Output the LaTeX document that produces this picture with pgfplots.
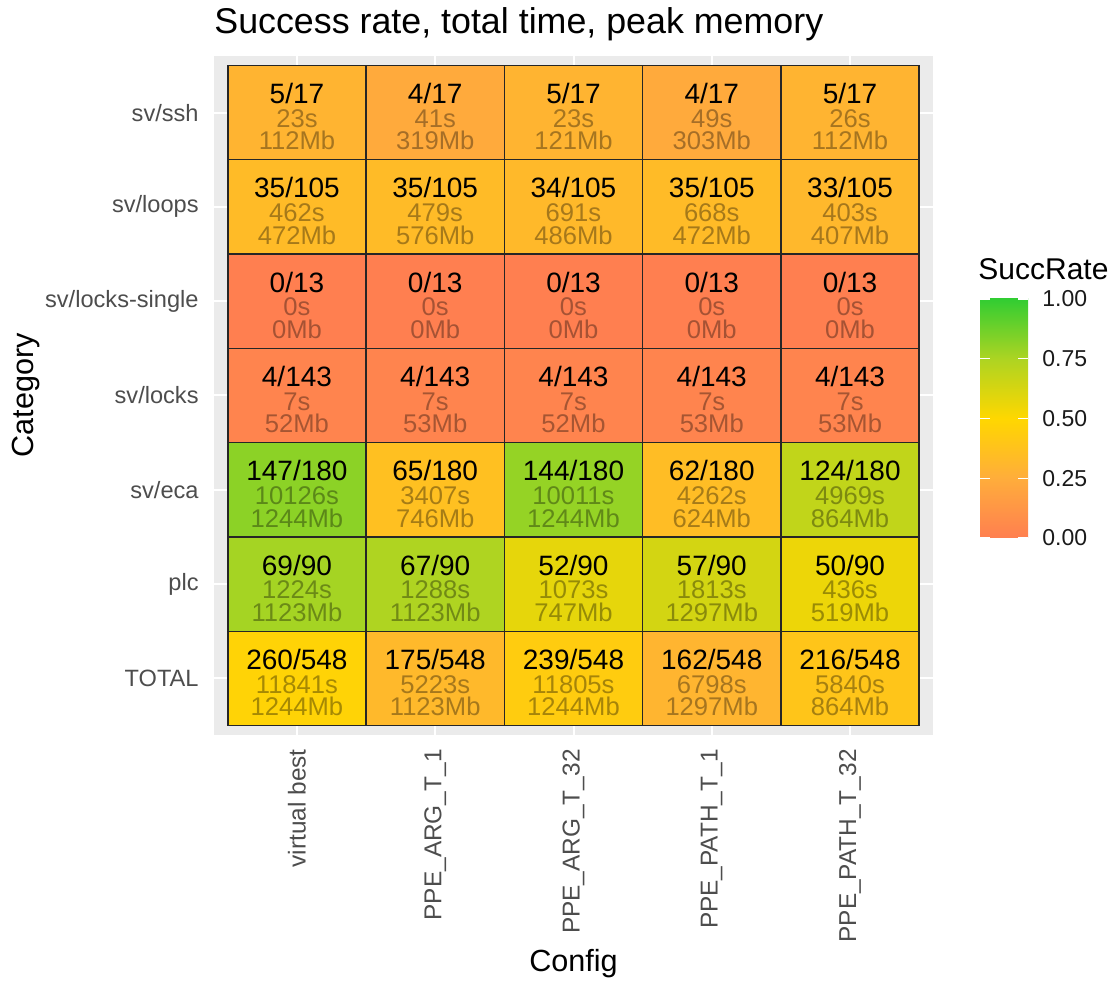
\documentclass[border=0pt]{standalone}
\usepackage{pgfplots}
\pgfplotsset{compat=1.18}
\usepackage{pgfplotstable}
\usepackage{fontspec}
\setmainfont{Liberation Sans}
\definecolor{axisgrey}{RGB}{77,77,77}
\definecolor{panelgrey}{RGB}{235,235,235}
\definecolor{legtext}{RGB}{26,26,26}
\definecolor{cA}{RGB}{255,127,80}
\definecolor{cB}{RGB}{255,173,59}
\definecolor{cC}{RGB}{255,215,0}
\definecolor{cD}{RGB}{173,212,34}
\definecolor{cE}{RGB}{50,205,50}

% x: config, y: category (1 = TOTAL ... 7 = sv/ssh)
% r: success rate, f: solved/total, t: total time (s), m: peak memory (Mb)
\pgfplotstableread{
x y r f t m
1 1 0.4745 260/548 11841 1244
2 1 0.3193 175/548 5223 1123
3 1 0.4361 239/548 11805 1244
4 1 0.2956 162/548 6798 1297
5 1 0.3942 216/548 5840 864
1 2 0.7667 69/90 1224 1123
2 2 0.7444 67/90 1288 1123
3 2 0.5778 52/90 1073 747
4 2 0.6333 57/90 1813 1297
5 2 0.5556 50/90 436 519
1 3 0.8167 147/180 10126 1244
2 3 0.3611 65/180 3407 746
3 3 0.8000 144/180 10011 1244
4 3 0.3444 62/180 4262 624
5 3 0.6889 124/180 4969 864
1 4 0.0280 4/143 7 52
2 4 0.0280 4/143 7 53
3 4 0.0280 4/143 7 52
4 4 0.0280 4/143 7 53
5 4 0.0280 4/143 7 53
1 5 0.0000 0/13 0 0
2 5 0.0000 0/13 0 0
3 5 0.0000 0/13 0 0
4 5 0.0000 0/13 0 0
5 5 0.0000 0/13 0 0
1 6 0.3333 35/105 462 472
2 6 0.3333 35/105 479 576
3 6 0.3238 34/105 691 486
4 6 0.3333 35/105 668 472
5 6 0.3143 33/105 403 407
1 7 0.2941 5/17 23 112
2 7 0.2353 4/17 41 319
3 7 0.2941 5/17 23 121
4 7 0.2353 4/17 49 303
5 7 0.2941 5/17 26 112
}\datatable

\begin{document}
\begin{tikzpicture}
\path[use as bounding box] (-107pt,-122.5pt) rectangle (452.5pt,367.5pt);
\begin{axis}[
  at={(0,0)}, anchor=south west,
  scale only axis, width=359.5pt, height=339.5pt,
  xmin=0.4, xmax=5.6, ymin=0.4, ymax=7.6,
  xtick={1,2,3,4,5}, ytick={1,2,3,4,5,6,7},
  xticklabels={virtual best, PPE\_ARG\_T\_1, PPE\_ARG\_T\_32, PPE\_PATH\_T\_1, PPE\_PATH\_T\_32},
  yticklabels={TOTAL, plc, sv/eca, sv/locks, sv/locks-single, sv/loops, sv/ssh},
  xticklabel style={rotate=90, anchor=east, inner sep=0pt, xshift=-7pt, text=axisgrey, font=\fontsize{12.2}{14}\selectfont},
  yticklabel style={anchor=east, inner sep=0pt, xshift=-7.5pt, text=axisgrey, font=\fontsize{11.8}{14}\selectfont},
  major tick length=0pt,
  tick style={draw=none},
  grid=major, major grid style={white, line width=1pt},
  axis background/.style={fill=panelgrey},
  axis line style={draw=none},
  colormap={succ}{rgb255=(255,127,80) rgb255=(255,173,59) rgb255=(255,215,0) rgb255=(173,212,34) rgb255=(50,205,50)},
  point meta min=0, point meta max=1,
  title={Success rate, total time, peak memory},
  every axis title/.style={at={(axis description cs:0,1.033137)}, anchor=base west, inner sep=0pt, font=\fontsize{17.9}{21}\selectfont},
  xlabel={Config},
  every axis x label/.style={at={(axis description cs:0.5,-0.34875)}, anchor=base, inner sep=0pt, font=\fontsize{15.3}{18}\selectfont},
  ylabel={Category},
  every axis y label/.style={at={(axis description cs:-0.25104,0.5)}, rotate=90, anchor=base, inner sep=0pt, font=\fontsize{15.3}{18}\selectfont},
]
\addplot[scatter, only marks, mark=square*, mark size=23.576pt, point meta=explicit,
  scatter/use mapped color={draw=black!85, fill=mapped color},
  mark options={xscale=1.4662, line width=0.7pt}]
  table[x=x, y=y, meta=r]{\datatable};

\addplot[only marks, mark=none, point meta=explicit symbolic,
  nodes near coords,
  every node near coord/.append style={anchor=base, yshift=4.5pt, inner sep=0pt, text=black, font=\fontsize{14}{16}\selectfont}]
  table[x=x, y=y, meta=f]{\datatable};

\addplot[only marks, mark=none, point meta=explicit symbolic,
  nodes near coords={\pgfplotspointmeta s},
  every node near coord/.append style={anchor=base, yshift=-7.35pt, inner sep=0pt, text=black, text opacity=0.35, font=\fontsize{12.8}{15}\selectfont}]
  table[x=x, y=y, meta=t]{\datatable};

\addplot[only marks, mark=none, point meta=explicit symbolic,
  nodes near coords={\pgfplotspointmeta Mb},
  every node near coord/.append style={anchor=base, yshift=-18.7pt, inner sep=0pt, text=black, text opacity=0.35, font=\fontsize{12.8}{15}\selectfont}]
  table[x=x, y=y, meta=m]{\datatable};
\end{axis}

% colour bar (legend)
\begin{axis}[
  at={(383pt,218pt)}, anchor=north west,
  scale only axis, width=24pt, height=119.5pt,
  xmin=0, xmax=1, ymin=0, ymax=1,
  xtick=\empty,
  ytick={0,0.25,0.5,0.75,1},
  ytick pos=both, yticklabel pos=right,
  tick align=inside, major tick length=4.8pt,
  tick style={draw=white, line width=0.6pt},
  yticklabel style={/pgf/number format/fixed, /pgf/number format/fixed zerofill, /pgf/number format/precision=2, /pgf/number format/assume math mode=true, anchor=west, inner sep=0pt, xshift=7pt, text=legtext, font=\fontsize{11.5}{14}\selectfont},
  axis line style={draw=none},
  axis on top,
  title={SuccRate},
  every axis title/.style={at={(axis description cs:-0.0417,1.0795)}, anchor=base west, inner sep=0pt, font=\fontsize{15}{18}\selectfont},
]
\addplot[draw=none, forget plot] coordinates {(0,0) (1,1)};
\shade[bottom color=cA, top color=cB] (axis cs:0,0) rectangle (axis cs:1,0.2502);
\shade[bottom color=cB, top color=cC] (axis cs:0,0.25) rectangle (axis cs:1,0.5002);
\shade[bottom color=cC, top color=cD] (axis cs:0,0.5) rectangle (axis cs:1,0.7502);
\shade[bottom color=cD, top color=cE] (axis cs:0,0.75) rectangle (axis cs:1,1);
\end{axis}
\end{tikzpicture}
\end{document}
